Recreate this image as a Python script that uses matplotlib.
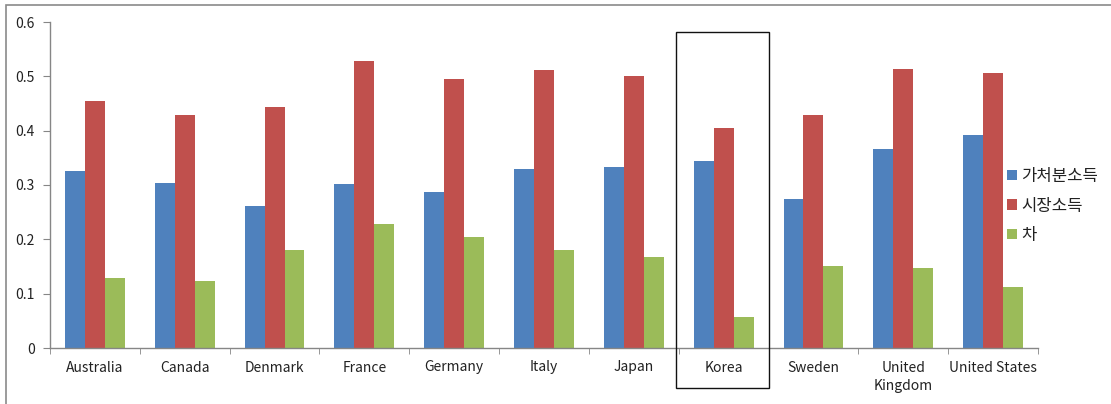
import matplotlib
matplotlib.use("Agg")
import matplotlib.pyplot as plt
from matplotlib.patches import Rectangle
import numpy as np

plt.rcParams['font.family'] = ['Noto Sans CJK KR', 'DejaVu Sans']

countries = ["Australia", "Canada", "Denmark", "France", "Germany", "Italy",
             "Japan", "Korea", "Sweden", "United\nKingdom", "United States"]
disposable = [0.325, 0.303, 0.262, 0.301, 0.288, 0.329, 0.334, 0.344, 0.275, 0.366, 0.392]
market = [0.455, 0.428, 0.444, 0.529, 0.495, 0.512, 0.501, 0.404, 0.429, 0.514, 0.507]
difference = [0.128, 0.123, 0.180, 0.228, 0.204, 0.180, 0.167, 0.057, 0.151, 0.148, 0.113]
series_names = ["가처분소득", "시장소득", "차"]
yticks = [0, 0.1, 0.2, 0.3, 0.4, 0.5, 0.6]
ytick_labels = ["0", "0.1", "0.2", "0.3", "0.4", "0.5", "0.6"]
highlight = "Korea"

colors = ["#4F81BD", "#C0504D", "#9BBB59"]
axis_grey = "#868686"

fig = plt.figure(figsize=(11.11, 4.04), dpi=100)
ax = fig.add_axes([50 / 1111, 1 - 348 / 404, (1038 - 50) / 1111, (348 - 22) / 404])

x = np.arange(len(countries))
w = 0.222
for i, (vals, name, c) in enumerate(zip([disposable, market, difference], series_names, colors)):
    ax.bar(x + (i - 1) * w, vals, width=w, color=c, label=name, linewidth=0)

ax.set_xlim(-0.5, len(countries) - 0.5)
ax.set_ylim(0, 0.6)
ax.set_yticks(yticks)
ax.set_yticklabels(ytick_labels)
ax.set_xticks(x)
ax.set_xticklabels(countries, fontsize=10, color="#222222", linespacing=1.45)
ax.set_xticks(np.arange(len(countries) + 1) - 0.5, minor=True)
ax.tick_params(axis="x", which="major", length=0, pad=9)
ax.tick_params(axis="x", which="minor", length=4, color=axis_grey, direction="out")
ax.tick_params(axis="y", length=5, color=axis_grey, labelsize=10, colors="#222222", pad=6)
for lab in ax.get_yticklabels():
    lab.set_color("#222222")

for side in ["top", "right"]:
    ax.spines[side].set_visible(False)
for side in ["left", "bottom"]:
    ax.spines[side].set_color(axis_grey)
    ax.spines[side].set_linewidth(1.0)

# frame around the highlighted country
k = countries.index(highlight)
trans = ax.get_xaxis_transform()
ax.add_patch(Rectangle((k - 0.535, (348 - 388) / 326), 1.045, (388 - 32) / 326,
                       transform=trans, fill=False, edgecolor="#111111",
                       linewidth=1.0, clip_on=False, zorder=5))

leg = fig.legend(loc="center left", bbox_to_anchor=(992 / 1111, 1 - 206 / 404),
                 frameon=False, fontsize=12, handlelength=0.6, handleheight=0.6,
                 handletextpad=0.25, labelspacing=0.75)
for t in leg.get_texts():
    t.set_color("#222222")

# outer chart border
fig.add_artist(Rectangle((6 / 1111, -0.1), 1.2, 1 - 4.5 / 404 + 0.1,
                         transform=fig.transFigure, fill=False,
                         edgecolor="#8a8a8a", linewidth=1.2))

fig.savefig("out.png", dpi=100)
